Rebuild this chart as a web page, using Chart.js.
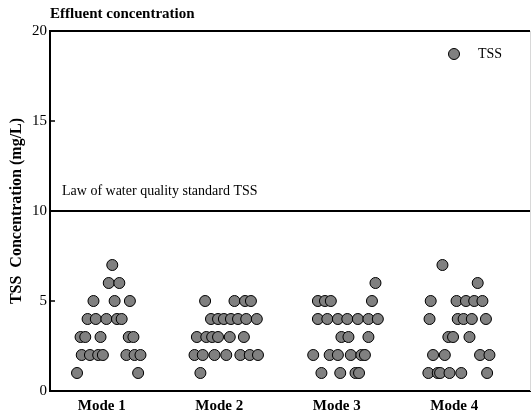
<!DOCTYPE html>
<html>
<head>
<meta charset="utf-8">
<title>Effluent concentration</title>
<script src="https://cdn.jsdelivr.net/npm/chart.js@4.4.0/dist/chart.umd.min.js"></script>
<style>
  body { margin: 0; background: #fff; }
  #wrap { width: 531px; height: 417px; }
</style>
</head>
<body>
<div id="wrap"><canvas id="chart" width="531" height="417"></canvas></div>
<script>
  // categories on the x axis
  const modes = ["Mode 1", "Mode 2", "Mode 3", "Mode 4"];
  const yTicks = [0, 5, 10, 15, 20];
  const standardTSS = 10;

  // TSS (mg/L) per sample, and the horizontal jitter of each dot inside its mode
  const mode1Values  = [7, 6, 6, 5, 5, 5, 4, 4, 4, 4, 4, 3, 3, 3, 3, 3, 2, 2, 2, 2, 2, 2, 2, 1, 1];
  const mode1Offsets = [.09, .06, .15, -.07, .11, .24, -.12, -.05, .04, .13, .17, -.18, -.14, -.01, .23, .27, -.17, -.10, -.03, .01, .21, .28, .33, -.21, .31];
  const mode2Values  = [5, 5, 5, 5, 4, 4, 4, 4, 4, 4, 4, 3, 3, 3, 3, 3, 3, 2, 2, 2, 2, 2, 2, 2, 1];
  const mode2Offsets = [-.12, .13, .22, .27, -.07, -.01, .04, .10, .16, .23, .32, -.19, -.11, -.06, -.01, .09, .21, -.21, -.14, -.04, .06, .18, .26, .33, -.16];
  const mode3Values  = [6, 5, 5, 5, 5, 4, 4, 4, 4, 4, 4, 4, 3, 3, 3, 2, 2, 2, 2, 2, 2, 1, 1, 1, 1];
  const mode3Offsets = [.33, -.16, -.10, -.05, .30, -.16, -.08, .01, .09, .18, .27, .35, .04, .10, .27, -.20, -.06, .01, .12, .21, .24, -.13, .03, .16, .19];
  const mode4Values  = [7, 6, 5, 5, 5, 5, 5, 4, 4, 4, 4, 4, 3, 3, 3, 2, 2, 2, 2, 1, 1, 1, 1, 1, 1];
  const mode4Offsets = [-.10, .20, -.20, .02, .10, .17, .24, -.21, .03, .08, .15, .27, -.05, -.01, .13, -.18, -.08, .22, .30, -.22, -.14, -.12, -.04, .06, .28];

  const xMin = 0.56, xMax = 4.645;

  const allValues = [mode1Values, mode2Values, mode3Values, mode4Values];
  const allOffsets = [mode1Offsets, mode2Offsets, mode3Offsets, mode4Offsets];
  const tssPoints = [];
  allValues.forEach((vals, m) => {
    vals.forEach((v, i) => tssPoints.push({ x: m + 1 + allOffsets[m][i], y: v }));
  });

  const serif = "'Liberation Serif', 'Times New Roman', serif";

  const extras = {
    id: 'extras',
    afterDraw(chart) {
      const ctx = chart.ctx;
      const a = chart.chartArea;
      const ys = chart.scales.y;
      const xs = chart.scales.x;
      ctx.save();
      // frame: top black, right faint
      ctx.strokeStyle = '#000';
      ctx.lineWidth = 2;
      ctx.beginPath();
      ctx.moveTo(a.left - 1, a.top);
      ctx.lineTo(a.right, a.top);
      ctx.stroke();
      ctx.strokeStyle = '#d8d8d8';
      ctx.lineWidth = 1;
      ctx.beginPath();
      ctx.moveTo(a.right + 0.5, a.top);
      ctx.lineTo(a.right + 0.5, a.bottom);
      ctx.stroke();
      // inward y ticks
      ctx.strokeStyle = '#000';
      ctx.lineWidth = 1.5;
      yTicks.forEach(t => {
        const py = ys.getPixelForValue(t);
        ctx.beginPath();
        ctx.moveTo(a.left, py);
        ctx.lineTo(a.left + 5, py);
        ctx.stroke();
      });
      // mode labels under the axis
      ctx.fillStyle = '#000';
      ctx.textAlign = 'center';
      ctx.textBaseline = 'middle';
      ctx.font = 'bold 15px ' + serif;
      modes.forEach((m, i) => ctx.fillText(m, xs.getPixelForValue(i + 1), a.bottom + 15));
      // title
      ctx.textAlign = 'left';
      ctx.fillText('Effluent concentration', a.left, 14);
      // standard label
      ctx.font = '14px ' + serif;
      ctx.fillText('Law of water quality standard TSS', a.left + 12, ys.getPixelForValue(standardTSS) - 20);
      // legend
      const lx = a.right - 76, ly = a.top + 23;
      ctx.beginPath();
      ctx.arc(lx, ly, 5.5, 0, Math.PI * 2);
      ctx.fillStyle = '#808080';
      ctx.fill();
      ctx.strokeStyle = '#000';
      ctx.lineWidth = 1;
      ctx.stroke();
      ctx.fillStyle = '#000';
      ctx.font = '14px ' + serif;
      ctx.fillText('TSS', lx + 24, ly);
      ctx.restore();
    }
  };

  new Chart(document.getElementById('chart'), {
    type: 'scatter',
    data: {
      datasets: [
        {
          label: 'TSS',
          data: tssPoints,
          pointRadius: 5.5,
          pointBackgroundColor: '#808080',
          pointBorderColor: '#000',
          pointBorderWidth: 1,
          showLine: false
        },
        {
          type: 'line',
          label: 'Standard',
          data: [{ x: xMin, y: standardTSS }, { x: xMax, y: standardTSS }],
          borderColor: '#000',
          borderWidth: 2,
          pointRadius: 0
        }
      ]
    },
    options: {
      responsive: false,
      animation: false,
      layout: { autoPadding: false, padding: { top: 31, right: 1, left: 0, bottom: 0 } },
      plugins: { legend: { display: false }, tooltip: { enabled: false } },
      scales: {
        x: {
          type: 'linear',
          min: xMin,
          max: xMax,
          afterFit: s => { s.height = 26; },
          ticks: { display: false },
          grid: { drawOnChartArea: false, drawTicks: false },
          border: { color: '#000', width: 2 }
        },
        y: {
          min: 0,
          max: 20,
          afterBuildTicks: s => { s.ticks = yTicks.map(v => ({ value: v })); },
          afterFit: s => { s.width = 50; },
          ticks: {
            color: '#000',
            font: { family: serif, size: 15 },
            padding: 3
          },
          title: {
            display: true,
            text: 'TSS  Concentration (mg/L)',
            color: '#000',
            font: { family: serif, size: 16, weight: 'bold' },
            padding: { top: 7, bottom: 0 }
          },
          grid: { drawOnChartArea: false, drawTicks: false },
          border: { color: '#000', width: 2 }
        }
      }
    },
    plugins: [extras]
  });
</script>
</body>
</html>
